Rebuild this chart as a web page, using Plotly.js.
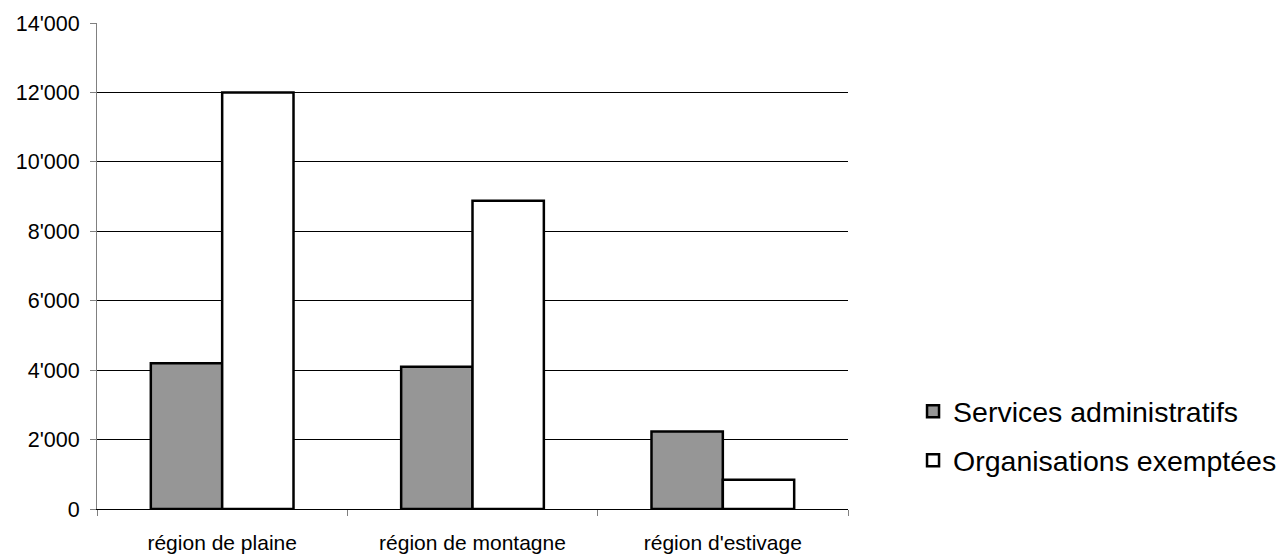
<!DOCTYPE html>
<html>
<head>
<meta charset="utf-8">
<script src="https://cdn.plot.ly/plotly-3.0.1.min.js"></script>
<style>html,body{margin:0;padding:0;background:#fff;}#chart{width:1287px;height:555px;}</style>
</head>
<body>
<div id="chart"></div>
<script>
const categories = ["région de plaine", "région de montagne", "région d'estivage"];
const seriesNames = ["Services administratifs", "Organisations exemptées"];
const servicesAdministratifs = [4200, 4100, 2230];
const organisationsExemptees = [12000, 8880, 840];
const yTickValues = [0, 2000, 4000, 6000, 8000, 10000, 12000, 14000];

const font = {family: "Liberation Sans, Arial, sans-serif", color: "#000"};

const traces = [
  {type: "bar", name: seriesNames[0], x: categories, y: servicesAdministratifs,
   marker: {color: "#969696", line: {color: "#000", width: 2.5}}, legendgroup: "a", hoverinfo: "y"},
  {type: "bar", name: seriesNames[1], x: categories, y: organisationsExemptees,
   marker: {color: "#ffffff", line: {color: "#000", width: 2.5}}, legendgroup: "b", hoverinfo: "y"}
];

const layout = {
  width: 1287, height: 555,
  margin: {l: 97, r: 439, t: 23, b: 46, autoexpand: false},
  paper_bgcolor: "#fff", plot_bgcolor: "#fff",
  font: Object.assign({size: 22}, font),
  separators: ".'",
  barmode: "group", bargap: 0.43, bargroupgap: 0,
  xaxis: {
    type: "category", tickson: "boundaries", ticks: "outside", ticklen: 6, tickcolor: "#808080",
    showline: true, linecolor: "#000", linewidth: 1, showgrid: false,
    ticklabelstandoff: 15,
    tickfont: Object.assign({size: 21}, font)
  },
  yaxis: {
    range: [0, 14000], tickvals: yTickValues, tickformat: ",", ticks: "outside", ticklen: 6,
    tickcolor: "#808080", showline: true, linecolor: "#808080", linewidth: 1,
    showgrid: true, gridcolor: "#000", gridwidth: 1, zeroline: false,
    ticklabelstandoff: 6,
    tickfont: Object.assign({size: 21.5}, font)
  },
  showlegend: true,
  legend: {
    x: 1.0866, y: 0.15, xanchor: "left", yanchor: "middle",
    traceorder: "grouped", tracegroupgap: 9,
    font: Object.assign({size: 28.5}, font), bgcolor: "rgba(0,0,0,0)", itemwidth: 30
  }
};

Plotly.newPlot("chart", traces, layout, {displayModeBar: false, staticPlot: true});
</script>
</body>
</html>
